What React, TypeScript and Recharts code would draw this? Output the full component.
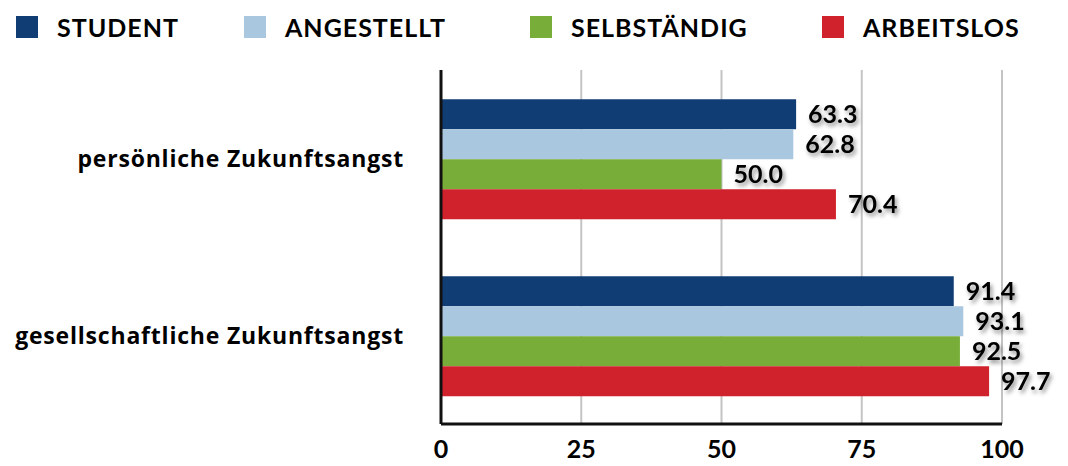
import React from 'react';
import { BarChart, Bar, XAxis, YAxis, CartesianGrid, Legend, LabelList } from 'recharts';

const categories = ['persönliche Zukunftsangst', 'gesellschaftliche Zukunftsangst'];
const student = [63.3, 91.4];
const angestellt = [62.8, 93.1];
const selbstaendig = [50.0, 92.5];
const arbeitslos = [70.4, 97.7];
const xTicks = [0, 25, 50, 75, 100];

const seriesNames = ['STUDENT', 'ANGESTELLT', 'SELBSTÄNDIG', 'ARBEITSLOS'];
const seriesKeys = ['student', 'angestellt', 'selbstaendig', 'arbeitslos'];
const seriesColors = ['#103d73', '#aac7e0', '#78ad3a', '#d0222c'];

const data = categories.map((c, i) => ({
  name: c,
  student: student[i],
  angestellt: angestellt[i],
  selbstaendig: selbstaendig[i],
  arbeitslos: arbeitslos[i],
}));

const FONT = 'Lato, "Open Sans", sans-serif';
const CAT_FONT = '"Open Sans", Lato, sans-serif';
const legendLefts = [16, 244, 530, 822];

const LegendContent = () => (
  <div style={{ position: 'relative', width: 1068, height: 50 }}>
    {seriesNames.map((n, i) => (
      <div
        key={n}
        style={{
          position: 'absolute',
          left: legendLefts[i],
          top: 16,
          display: 'flex',
          alignItems: 'center',
          fontFamily: FONT,
          fontWeight: 700,
          fontSize: 25,
          letterSpacing: 1,
          color: '#000',
          lineHeight: '22px',
        }}
      >
        <span style={{ display: 'inline-block', width: 22, height: 22, background: seriesColors[i], marginRight: 19 }} />
        <span>{n}</span>
      </div>
    ))}
  </div>
);

const ValueLabel = (props: any) => {
  const { x, y, width, height, value } = props;
  return (
    <text
      x={x + width + 12}
      y={y + height / 2}
      dy={9}
      fontFamily={FONT}
      fontWeight={700}
      fontSize={25}
      fill="#000"
      style={{ filter: 'drop-shadow(2px 3px 2px rgba(0,0,0,0.45))' }}
    >
      {Number(value).toFixed(1)}
    </text>
  );
};

export default function App() {
  return (
    <div style={{ position: 'absolute', left: 0, top: 0, width: 1068, height: 466, background: '#fff' }}>
      <style>{`body{margin:0}`}</style>
      <BarChart
        width={1068}
        height={466}
        data={data}
        layout="vertical"
        margin={{ top: 20, right: 66, bottom: 12, left: 0 }}
        barCategoryGap="16.5%"
        barGap={0}
      >
        <CartesianGrid horizontal={false} vertical={true} stroke="#c4c4c4" strokeWidth={2} />
        <XAxis
          type="number"
          domain={[0, 100]}
          ticks={xTicks}
          tickLine={false}
          axisLine={{ stroke: '#111', strokeWidth: 3 }}
          tick={{ fontFamily: FONT, fontWeight: 700, fontSize: 25, fill: '#000' }}
          tickMargin={10}
          interval={0}
        />
        <YAxis
          type="category"
          dataKey="name"
          width={441}
          tickLine={false}
          axisLine={{ stroke: '#111', strokeWidth: 3 }}
          tick={{ fontFamily: CAT_FONT, fontWeight: 700, fontSize: 23, fill: '#000', letterSpacing: 0.8 }}
          tickMargin={31}
        />
        <Legend verticalAlign="top" align="left" content={<LegendContent />} wrapperStyle={{ top: 0, left: 0, width: 1068, height: 50 }} />
        {seriesKeys.map((k, i) => (
          <Bar key={k} dataKey={k} name={seriesNames[i]} fill={seriesColors[i]} isAnimationActive={false}>
            <LabelList dataKey={k} content={<ValueLabel />} />
          </Bar>
        ))}
      </BarChart>
    </div>
  );
}
